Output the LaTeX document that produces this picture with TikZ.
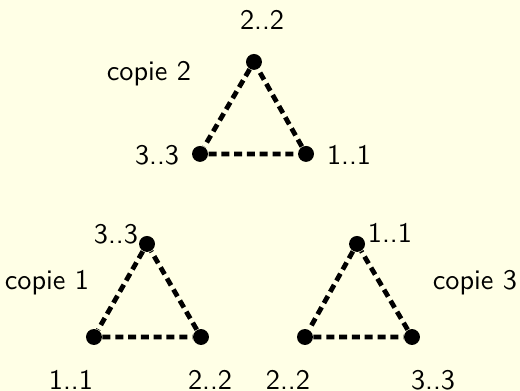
\documentclass[tikz,border=0pt]{standalone}
\usepackage{tikz}
\usetikzlibrary{arrows.meta, positioning, calc}
\definecolor{paper}{RGB}{255, 255, 230}

\begin{document}
\begin{tikzpicture}[
        font=\sffamily\fontsize{10.6}{13}\selectfont,
        vertex/.style={circle, fill=black, inner sep=0pt, minimum size=0.21cm},
        lbl/.style={inner sep=0pt, anchor=center},
        link/.style={line width=1.8pt, dash pattern=on 3pt off 1.8pt}
    ]
        % Background
        \fill[paper] (0,0) rectangle (6.851,5.151);
        \useasboundingbox (0,0) rectangle (6.851,5.151);

        % Copie 2
        \node[vertex] (a2) at (3.346,4.335) {};
        \node[vertex] (a3) at (2.635,3.123) {};
        \node[vertex] (a1) at (4.032,3.123) {};
        \node[lbl] (la2) at (3.452,4.888) {2..2};
        \node[lbl] (la3) at (2.069,3.109) {3..3};
        \node[lbl] (la1) at (4.598,3.109) {1..1};
        \node[lbl] (ca) at (1.963,4.177) {copie 2};

        % Copie 1
        \node[vertex] (b3) at (1.937,1.937) {};
        \node[vertex] (b1) at (1.238,0.711) {};
        \node[vertex] (b2) at (2.648,0.711) {};
        \node[lbl] (lb3) at (1.528,2.069) {3..3};
        \node[lbl] (lb1) at (0.935,0.140) {1..1};
        \node[lbl] (lb2) at (2.767,0.140) {2..2};
        \node[lbl] (cb) at (0.619,1.423) {copie 1};

        % Copie 3
        \node[vertex] (c1) at (4.704,1.937) {};
        \node[vertex] (c2) at (4.018,0.711) {};
        \node[vertex] (c3) at (5.428,0.711) {};
        \node[lbl] (lc1) at (5.138,2.082) {1..1};
        \node[lbl] (lc2) at (3.794,0.140) {2..2};
        \node[lbl] (lc3) at (5.705,0.140) {3..3};
        \node[lbl] (cc) at (6.258,1.423) {copie 3};

        % Edges
        \draw[link] (a2) -- (a3) -- (a1) -- (a2);
        \draw[link] (b3) -- (b1) -- (b2) -- (b3);
        \draw[link] (c1) -- (c2) -- (c3) -- (c1);
    \end{tikzpicture}
\end{document}
